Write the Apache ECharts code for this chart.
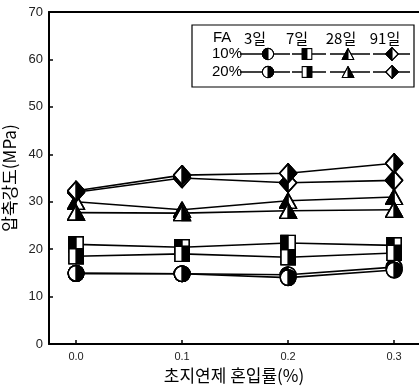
<!DOCTYPE html>
<html>
<head>
<meta charset="utf-8">
<script src="https://cdn.jsdelivr.net/npm/echarts@6/dist/echarts.min.js"></script>
<style>
html,body{margin:0;padding:0;background:#fff;}
#chart{width:419px;height:387px;}
</style>
</head>
<body>
<div id="chart"></div>
<script>
// Admixture ratio (%) on the x axis
const ratios = [0.0, 0.1, 0.2, 0.3];
const xTicks = [0.0, 0.1, 0.2, 0.3];
const yTicks = [0, 10, 20, 30, 40, 50, 60, 70];
const ageLabels = ['3일', '7일', '28일', '91일'];
const faLabels = ['10%', '20%'];

// Compressive strength (MPa) by curing age and fly-ash content
const s3d_fa10 = [14.9, 14.8, 14.6, 16.2];
const s3d_fa20 = [14.9, 14.8, 14.0, 15.6];
const s7d_fa10 = [21.0, 20.4, 21.3, 20.8];
const s7d_fa20 = [18.5, 19.0, 18.3, 19.2];
const s28d_fa10 = [30.0, 28.3, 30.2, 31.0];
const s28d_fa20 = [27.7, 27.6, 28.1, 28.3];
const s91d_fa10 = [32.0, 35.0, 34.0, 34.5];
const s91d_fa20 = [32.3, 35.6, 36.0, 38.1];

// Half-filled marker glyphs: left half black (10%) or right half black (20%)
function glyph(shape, side) {
  const W = 20, H = 20, sw = 1.6;
  let outline = '', half = '';
  const L = side === 'left';
  if (shape === 'circle') {
    const cx = 10, cy = 10, r = 8.7;
    outline = `<circle cx="${cx}" cy="${cy}" r="${r}"/>`;
    half = `<path d="M${cx} ${cy - r} A${r} ${r} 0 0 ${L ? 0 : 1} ${cx} ${cy + r} Z"/>`;
  } else if (shape === 'square') {
    outline = `<rect x="1" y="1" width="18" height="18"/>`;
    half = L ? `<rect x="1" y="1" width="9" height="18"/>` : `<rect x="10" y="1" width="9" height="18"/>`;
  } else if (shape === 'triangle') {
    outline = `<polygon points="10,1 19,19 1,19"/>`;
    half = L ? `<polygon points="10,1 10,19 1,19"/>` : `<polygon points="10,1 19,19 10,19"/>`;
  } else {
    outline = `<polygon points="10,1 19,10 10,19 1,10"/>`;
    half = L ? `<polygon points="10,1 10,19 1,10"/>` : `<polygon points="10,1 19,10 10,19"/>`;
  }
  const svg = `<svg xmlns="http://www.w3.org/2000/svg" width="${W * 2}" height="${H * 2}" viewBox="0 0 ${W} ${H}">` +
    `<g fill="#fff" stroke="#000" stroke-width="${sw}" stroke-linejoin="miter">${outline}</g>` +
    `<g fill="#000" stroke="#000" stroke-width="${sw}">${half}</g>` +
    `<g fill="none" stroke="#000" stroke-width="${sw}">${outline}</g></svg>`;
  return 'data:image/svg+xml;charset=utf-8,' + encodeURIComponent(svg);
}

const seriesDefs = [
  { name: '3일 10%', data: s3d_fa10, shape: 'circle', side: 'left', size: [18, 18] },
  { name: '3일 20%', data: s3d_fa20, shape: 'circle', side: 'right', size: [18, 18] },
  { name: '7일 10%', data: s7d_fa10, shape: 'square', side: 'left', size: [16, 17] },
  { name: '7일 20%', data: s7d_fa20, shape: 'square', side: 'right', size: [16, 17] },
  { name: '28일 10%', data: s28d_fa10, shape: 'triangle', side: 'left', size: [19, 17] },
  { name: '28일 20%', data: s28d_fa20, shape: 'triangle', side: 'right', size: [19, 17] },
  { name: '91일 10%', data: s91d_fa10, shape: 'diamond', side: 'left', size: [19, 21] },
  { name: '91일 20%', data: s91d_fa20, shape: 'diamond', side: 'right', size: [19, 21] }
];

const numFont = "'Liberation Sans', Arial, sans-serif";
const krFont = "'Noto Sans CJK KR', 'Liberation Sans', sans-serif";

const series = seriesDefs.map(d => ({
  name: d.name,
  type: 'line',
  data: ratios.map((x, i) => [x, d.data[i]]),
  symbol: 'image://' + glyph(d.shape, d.side),
  symbolSize: d.size,
  showSymbol: true,
  lineStyle: { color: '#000', width: 1.6 },
  itemStyle: { color: '#000' },
  animation: false
}));

// Legend box drawn as graphic elements
const legendG = [];
legendG.push({ type: 'rect', shape: { x: 192, y: 25, width: 222, height: 62 },
  style: { fill: '#fff', stroke: '#000', lineWidth: 1.2 }, z: 10 });
legendG.push({ type: 'text', x: 213, y: 38, z: 11,
  style: { text: 'FA', font: "15px " + numFont, fill: '#000', textVerticalAlign: 'middle' } });
const ageX = [255, 297, 341, 385];
ageLabels.forEach((t, i) => legendG.push({ type: 'text', x: ageX[i], y: 38, z: 11,
  style: { text: t, font: "15px " + krFont, fill: '#000', textAlign: 'center', textVerticalAlign: 'middle' } }));
const rowY = [54, 72];
const markCx = [268, 307, 348, 392];
const segs = [[240, 290], [292, 326], [330, 370], [373, 410]];
const shapes = ['circle', 'square', 'triangle', 'diamond'];
const legSize = [[13, 13], [11, 12], [13, 12], [14, 14]];
faLabels.forEach((t, r) => {
  legendG.push({ type: 'text', x: 212, y: rowY[r], z: 11,
    style: { text: t, font: "15px " + numFont, fill: '#000', textVerticalAlign: 'middle' } });
  shapes.forEach((s, k) => {
    legendG.push({ type: 'line', z: 11, shape: { x1: segs[k][0], y1: rowY[r], x2: segs[k][1], y2: rowY[r] },
      style: { stroke: '#000', lineWidth: 1.6 } });
    const [w, h] = legSize[k];
    legendG.push({ type: 'image', z: 12, style: { image: glyph(s, r === 0 ? 'left' : 'right'),
      x: markCx[k] - w / 2, y: rowY[r] - h / 2, width: w, height: h } });
  });
});

const chart = echarts.init(document.getElementById('chart'), null, { renderer: 'canvas' });
chart.setOption({
  backgroundColor: '#fff',
  animation: false,
  grid: { left: 49, top: 12, right: 0, bottom: 43, containLabel: false, outerBoundsMode: 'none' },
  xAxis: [{
    type: 'value', min: -0.0255, max: 0.3235, position: 'bottom',
    axisLine: { show: true, onZero: false, lineStyle: { color: '#000', width: 2 } },
    axisTick: { show: true, inside: true, length: 4, lineStyle: { color: '#000', width: 1.5 }, customValues: xTicks },
    axisLabel: { show: true, customValues: xTicks, formatter: v => v.toFixed(1), color: '#222',
      fontSize: 11, fontFamily: numFont, margin: 7 },
    splitLine: { show: false },
    name: '초지연제 혼입률(%)', nameLocation: 'middle', nameGap: 22,
    nameTextStyle: { fontSize: 17, fontFamily: krFont, color: '#000' }
  }, {
    type: 'value', min: -0.0255, max: 0.3235, position: 'top',
    axisLine: { show: true, onZero: false, lineStyle: { color: '#000', width: 2 } },
    axisTick: { show: false }, axisLabel: { show: false }, splitLine: { show: false }
  }],
  yAxis: {
    type: 'value', min: 0, max: 70, interval: 10, position: 'left',
    axisLine: { show: true, onZero: false, lineStyle: { color: '#000', width: 2 } },
    axisTick: { show: true, inside: true, length: 4, lineStyle: { color: '#000', width: 1.5 } },
    axisLabel: { color: '#222', fontSize: 13, fontFamily: numFont, margin: 6,
      formatter: v => (yTicks.includes(v) ? String(v) : '') },
    splitLine: { show: false },
    name: '압축강도(MPa)', nameLocation: 'middle', nameGap: 27, nameRotate: 90,
    nameTextStyle: { fontSize: 17, fontFamily: krFont, color: '#000' }
  },
  series: series,
  graphic: legendG
});
</script>
</body>
</html>
